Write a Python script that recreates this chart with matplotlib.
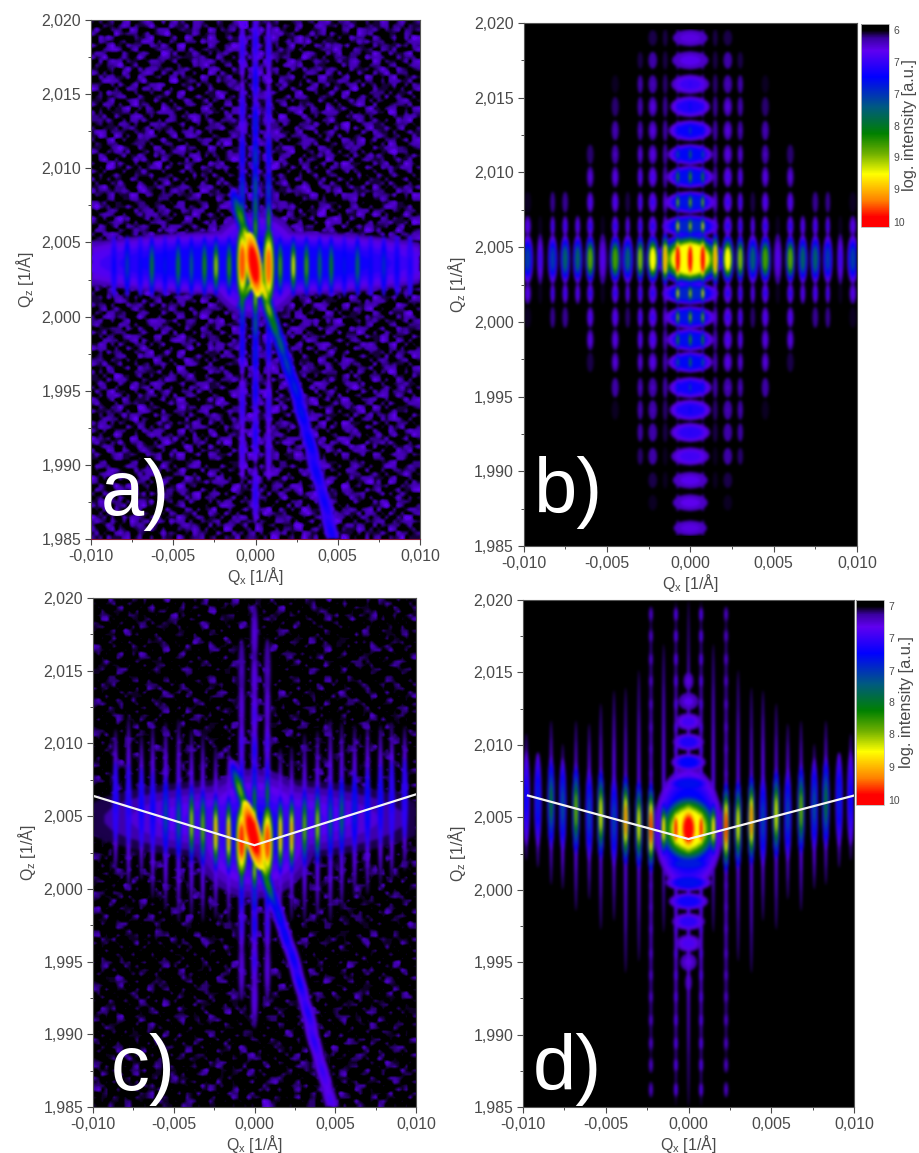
import numpy as np
import matplotlib
matplotlib.use('Agg')
from matplotlib import pyplot as plt
from matplotlib.cm import ScalarMappable
from matplotlib.collections import PolyCollection
from matplotlib.colors import LinearSegmentedColormap, Normalize

W, H = 919, 1153
GRAY = '#4a4a4a'

plt.rcParams['font.family'] = ['Liberation Sans', 'DejaVu Sans']
plt.rcParams['mathtext.default'] = 'regular'

# colours, black = weak end, red = strong end
cmap_pos = [0, 0.03, 0.07, 0.13, 0.26, 0.41, 0.54, 0.64, 0.74, 0.87, 0.95, 1]
cmap_col = ['#000000', '#000000', '#3a00a0', '#6000f0', '#0000ff', '#005a80',
            '#008000', '#70b000', '#ffff00', '#ff8000', '#ff0000', '#ff0000']

x_ticks = [-0.010, -0.005, 0.0, 0.005, 0.010]
x_labels = ['-0,010', '-0,005', '0,000', '0,005', '0,010']
x_minor = [-0.0075, -0.0025, 0.0025, 0.0075]
z_ticks = [1.985, 1.990, 1.995, 2.000, 2.005, 2.010, 2.015, 2.020]
z_labels = ['1,985', '1,990', '1,995', '2,000', '2,005', '2,010', '2,015', '2,020']
z_minor = [1.9875, 1.9925, 1.9975, 2.0025, 2.0075, 2.0125, 2.0175]

cbar_pos = [0.03, 0.185, 0.345, 0.5, 0.655, 0.815, 0.975]
cbar_labels_b = ['6', '7', '7', '8', '9', '9', '10']
cbar_labels_d = ['7', '7', '7', '8', '8', '9', '10']

# ---- a) measured map
qx_a = [-0.0086, -0.0078, -0.0070, -0.0063, -0.0055, -0.0047, -0.0039, -0.0031,
        -0.0024, -0.0016, -0.0008, 0.0, 0.0008, 0.0015, 0.0023, 0.0031, 0.0039,
        0.0046, 0.0054, 0.0062, 0.0070, 0.0078, 0.0086, 0.0094]
lv_a = [0.26, 0.36, 0.28, 0.50, 0.30, 0.50, 0.42, 0.56, 0.68, 0.58, 0.85, 0.97,
        0.82, 0.60, 0.72, 0.60, 0.46, 0.52, 0.30, 0.46, 0.28, 0.34, 0.27, 0.24]
col0_z_a = [2.0185, 2.0160, 2.0130, 2.0108, 2.0087, 2.0073, 2.0060, 2.0012, 1.9995, 1.9975, 1.9950, 1.9920, 1.9880]
col0_lv_a = [0.24, 0.28, 0.32, 0.38, 0.44, 0.50, 0.60, 0.66, 0.44, 0.32, 0.28, 0.25, 0.23]
col1_z_a = [2.0180, 2.0140, 2.0110, 2.0085, 2.0065, 2.0012, 2.0000, 1.9980, 1.9940, 1.9910]
col1_lv_a = [0.22, 0.24, 0.30, 0.38, 0.58, 0.56, 0.36, 0.28, 0.22, 0.20]
diag_qx_a = [-0.0009, -0.0005, -0.0002, 0.0002, 0.0005, 0.0008, 0.0011, 0.0015,
             0.0019, 0.0024, 0.0028, 0.0033, 0.0037, 0.0042, 0.0046]
diag_z_a = [2.0067, 2.0052, 2.0042, 2.0028, 2.0018, 2.0005, 1.9995, 1.9982,
            1.9968, 1.9952, 1.9935, 1.9915, 1.9895, 1.9875, 1.9855]
diag_lv_a = [0.60, 0.78, 0.84, 0.82, 0.78, 0.66, 0.54, 0.44, 0.37, 0.33, 0.30, 0.28, 0.27, 0.26, 0.25]
# speckle of the measured background, estimated by eye, 0 = black .. 4 = bright blue
speckle = [
    '001030120021030010240101002003102100130201',
    '100202001300120201001203100012001032001020',
    '021000130010201300120002013200100120200013',
    '003102001203000102310100020001230010021002',
    '120010200310120020001302100310020201300120',
    '002301002000023101020010032001001300201003',
    '100020130102000300102301000120200010120200',
    '013100200030102012000130210003102002003010',
    '200002013000100000201000100020010300010002',
    '001200000102000130000210003000102000200100',
    '102003100000201002000100200100000130000210',
    '000120020310002100310200013020310002103002',
    '210003100020130002000120300100200120000130',
    '001020002100000210130002000210013003100200',
    '130200130020310000200013102000200000210001',
    '002000200100002013000210000310002130002003',
    '100310002013100200102000130002100200013200',
    '020001200200030001300120200010300002100010',
    '003100013000200120002003100200013100020130',
    '000000100000001000000100000000100000001000',
    '000100000200000010000000200001000000100000',
    '120200310012003100120200102300120010200120',
    '002013000200120020003102000120002300120003',
    '310100201003002013100002310002100200013100',
    '002000130200130000200130020013000130200020',
    '100310002000200102013000201000230000020103',
    '020001200130010300000210003100200013100200',
    '003100020002000120310002000130100200002013',
    '200020130100230002000130102002013000130100',
    '010200002013000100120200310000200120200002',
    '002013100200012003000002000120300002013100',
    '130000200120200130210100130002000310000200',
    '000200310000102000002003000210002000120013',
    '210100002013000210310000120013000130200100',
    '002000130200100002000210002000210002000120',
    '100310002003102000120003100200100200310002',
    '020002100120000210003000020013002013000200',
    '003100200002013000200120103000200100200130',
    '200020013100200130100200000310130002001002',
    '010200100200002000310002013000200130000210',
    '002013002013100200000130200120000200130100',
    '130000200000200130200100002003100013002000',
    '000200130102000102000200310000200000100203',
    '210100002000310000130002000102003100020100',
    '002000210003000210002013000210200020013002',
    '100310000120200002100200130000102000200100',
    '020002103000013100020000210013000310000210',
    '003100020200200000310130002000200000130200',
    '200020100013000130000200100230013002000013',
    '010200310002103000200003102000200130200100',
    '002013000200000210013100000130100002013000',
    '130000200100130000200000210002003100000200',
    '000200013002000200103002000120000200102013',
    '210102000310020013000210130002013000210000',
    '002000210000200100020000002000200130000120',
    '100310002013000210003102013100002000200300',
    '020002000200130000120000200003100210013002',
    '003100130002000200002013000210000200000120',
    '200000200100210130000200100000200013102000',
    '010213000013000000310002013002003000200013',
    '002000100200130200000100200130100210000100',
    '130200310002000013002000002000200000130200',
    '000100000000100200000130100310002103000002',
    '210003102013000100210000200000130000200130',
    '002000200000210003000200013000200120002000',
    '100120000100020000102003000210001000100201',
]
bg_scale_a = [0.02, 0.07, 0.11, 0.16, 0.27]
bg_scale_c = [0.01, 0.04, 0.07, 0.11, 0.20]

# ---- b) simulated map, mirrored around Qx = 0
rows_z_b = [2.0190, 2.0175, 2.0159, 2.0144, 2.0128, 2.0112, 2.0097, 2.0080, 2.0064, 2.0042,
            2.0019, 2.0003, 1.9988, 1.9973, 1.9956, 1.9941, 1.9926, 1.9910, 1.9894, 1.9879, 1.9862]
blob_w_b = [0.0021, 0.0022, 0.0023, 0.0024, 0.0026, 0.0027, 0.0028, 0.0030, 0.0034, 0.0040,
            0.0034, 0.0030, 0.0028, 0.0027, 0.0026, 0.0025, 0.0024, 0.0023, 0.0021, 0.0021, 0.0020]
blob_h_b = [0.0011, 0.0012, 0.0013, 0.0014, 0.0014, 0.0014, 0.0015, 0.0015, 0.0015, 0.0036,
            0.0015, 0.0015, 0.0015, 0.0014, 0.0014, 0.0014, 0.0013, 0.0012, 0.0011, 0.0011, 0.0010]
blob_lv_b = [0.12, 0.14, 0.18, 0.22, 0.25, 0.27, 0.28, 0.29, 0.32, 0.74,
             0.32, 0.29, 0.28, 0.27, 0.24, 0.22, 0.20, 0.17, 0.14, 0.13, 0.12]
# one row per Qz row, columns |n| = 0..13 of the fringe spacing
sides_b = [
    [0.10, 0.10, 0.05, 0.05, 0.03, 0, 0, 0, 0, 0, 0, 0, 0, 0],
    [0.14, 0.12, 0.05, 0.08, 0.05, 0, 0, 0, 0, 0, 0, 0, 0, 0],
    [0.22, 0.17, 0.06, 0.10, 0.10, 0, 0.04, 0, 0, 0, 0, 0, 0, 0],
    [0.30, 0.24, 0.07, 0.14, 0.10, 0, 0.06, 0, 0, 0, 0, 0, 0, 0],
    [0.38, 0.30, 0.08, 0.14, 0.12, 0, 0.10, 0, 0, 0, 0, 0, 0, 0],
    [0.48, 0.42, 0.10, 0.15, 0.14, 0, 0.12, 0, 0.06, 0, 0, 0, 0, 0],
    [0.60, 0.56, 0.12, 0.18, 0.18, 0, 0.16, 0, 0.14, 0, 0, 0, 0, 0],
    [0.66, 0.66, 0.14, 0.20, 0.20, 0.05, 0.18, 0, 0.18, 0, 0.07, 0.07, 0, 0.04],
    [0.70, 0.76, 0.18, 0.22, 0.22, 0.18, 0.22, 0.04, 0.22, 0.18, 0.20, 0.20, 0.04, 0.16],
    [0.98, 0.97, 0.82, 0.74, 0.66, 0.42, 0.60, 0.15, 0.62, 0.44, 0.44, 0.36, 0.18, 0.36],
    [0.70, 0.76, 0.18, 0.22, 0.22, 0.18, 0.22, 0.04, 0.22, 0.18, 0.20, 0.20, 0.04, 0.16],
    [0.66, 0.66, 0.14, 0.20, 0.20, 0.06, 0.18, 0, 0.18, 0, 0.07, 0.07, 0, 0.04],
    [0.58, 0.56, 0.12, 0.18, 0.18, 0, 0.16, 0, 0.16, 0, 0, 0, 0, 0],
    [0.50, 0.44, 0.10, 0.16, 0.14, 0, 0.14, 0, 0.05, 0, 0, 0, 0, 0],
    [0.38, 0.32, 0.08, 0.12, 0.12, 0, 0.08, 0, 0, 0, 0, 0, 0, 0],
    [0.28, 0.24, 0.06, 0.10, 0.10, 0, 0.04, 0, 0, 0, 0, 0, 0, 0],
    [0.22, 0.18, 0.05, 0.08, 0.08, 0, 0.03, 0, 0, 0, 0, 0, 0, 0],
    [0.18, 0.14, 0.04, 0.08, 0.06, 0, 0, 0, 0, 0, 0, 0, 0, 0],
    [0.13, 0.11, 0.04, 0.05, 0.03, 0, 0, 0, 0, 0, 0, 0, 0, 0],
    [0.11, 0.10, 0.03, 0.04, 0, 0, 0, 0, 0, 0, 0, 0, 0, 0],
    [0.11, 0.10, 0.03, 0.03, 0, 0, 0, 0, 0, 0, 0, 0, 0, 0],
]
qx_n_b = [0.0, 0.00075, 0.0015, 0.00225, 0.0030, 0.00375, 0.0045, 0.00525,
          0.0060, 0.00675, 0.0075, 0.00825, 0.0090, 0.00975]
col_w_b = [0.00028, 0.00024, 0.00028, 0.00052, 0.00032, 0.00028, 0.00042, 0.00026,
           0.00040, 0.00032, 0.00034, 0.00028, 0.00024, 0.00042]
main_w_b = [0.0005, 0.0005, 0.0005, 0.0008, 0.0005, 0.0007, 0.0007, 0.0005,
            0.0006, 0.0006, 0.0006, 0.0006, 0.0004, 0.0007]

# ---- c) measured map with V-shaped crystal truncation
qx_c = [-0.0086, -0.0078, -0.0070, -0.0063, -0.0055, -0.0047, -0.0039, -0.0032,
        -0.0024, -0.0016, -0.0008, 0.0, 0.0008, 0.0016, 0.0023, 0.0031, 0.0039,
        0.0047, 0.0054, 0.0062, 0.0070, 0.0078, 0.0085, 0.0093]
lv_c = [0.24, 0.24, 0.26, 0.27, 0.40, 0.44, 0.68, 0.64, 0.82, 0.84, 0.92, 0.97,
        0.90, 0.82, 0.84, 0.64, 0.68, 0.42, 0.46, 0.33, 0.30, 0.28, 0.24, 0.22]
zc_c = [2.0060, 2.0058, 2.0056, 2.0053, 2.0050, 2.0047, 2.0045, 2.0042, 2.0039, 2.0037, 2.0035, 2.0037,
        2.0035, 2.0037, 2.0038, 2.0042, 2.0044, 2.0047, 2.0050, 2.0053, 2.0056, 2.0058, 2.0060, 2.0062]
hi_c = [0.0100, 0.0120, 0.0100, 0.0120, 0.0130, 0.0140, 0.0130, 0.0130, 0.0120, 0.0120, 0.0120, 0.0120,
        0.0120, 0.0120, 0.0120, 0.0130, 0.0130, 0.0140, 0.0130, 0.0120, 0.0120, 0.0110, 0.0110, 0.0100]
col0_z_c = [2.0175, 2.0145, 2.0120, 2.0095, 2.0075, 2.0062, 2.0012, 1.9995, 1.9975, 1.9950, 1.9925]
col0_lv_c = [0.14, 0.16, 0.20, 0.26, 0.34, 0.54, 0.68, 0.36, 0.28, 0.22, 0.16]
col1_z_c = [2.0150, 2.0125, 2.0100, 2.0080, 2.0065, 2.0010, 1.9995, 1.9975, 1.9945]
col1_lv_c = [0.12, 0.15, 0.20, 0.26, 0.54, 0.52, 0.30, 0.22, 0.15]
diag_qx_c = [-0.0009, -0.0005, -0.0002, 0.0002, 0.0005, 0.0008, 0.0011, 0.0015,
             0.0019, 0.0024, 0.0028, 0.0033, 0.0037, 0.0042, 0.0047]
diag_z_c = [2.0068, 2.0053, 2.0042, 2.0027, 2.0017, 2.0004, 1.9995, 1.9982,
            1.9968, 1.9952, 1.9935, 1.9915, 1.9895, 1.9875, 1.9855]
diag_lv_c = [0.64, 0.78, 0.92, 0.84, 0.76, 0.56, 0.36, 0.31, 0.28, 0.27, 0.26, 0.24, 0.22, 0.20, 0.18]
vline_qx_c = [-0.01, 0.0, 0.01]
vline_z_c = [2.0064, 2.0030, 2.0065]

# ---- d) simulated map, mirrored around Qx = 0
qx_n_d = [0.0, 0.00076, 0.0015, 0.00227, 0.0030, 0.0038, 0.0045, 0.0053,
          0.0060, 0.0068, 0.0076, 0.0083, 0.0091, 0.0098]
top_d = [2.0200, 2.0200, 2.0170, 2.0193, 2.0152, 2.0140, 2.0138, 2.0129,
         2.0115, 2.0117, 2.0101, 2.0117, 2.0088, 2.0108]
bot_d = [1.9850, 1.9850, 1.9970, 1.9880, 1.9950, 1.9942, 1.9978, 1.9972,
         1.9993, 1.9985, 2.0000, 2.0003, 2.0015, 2.0020]
zc_d = [2.0042, 2.0042, 2.0042, 2.0043, 2.0045, 2.0048, 2.0048, 2.0052,
        2.0052, 2.0055, 2.0058, 2.0060, 2.0062, 2.0063]
lv_d = [0.98, 0.97, 0.78, 0.92, 0.72, 0.86, 0.38, 0.72, 0.38, 0.64, 0.40, 0.50, 0.32, 0.26]
streak_lv_d = [0.19, 0.17, 0.16, 0.13, 0.18, 0.17, 0.20, 0.18, 0.20, 0.20, 0.22, 0.20, 0.17, 0.19]
chain_z_d = [2.0144, 2.0130, 2.0116, 2.0102, 2.0088, 2.0073, 2.0018, 2.0005, 1.9992, 1.9978, 1.9963, 1.9950, 1.9936]
chain_w_d = [0.0006, 0.0012, 0.0016, 0.0019, 0.0021, 0.0028, 0.0032, 0.0028, 0.0024, 0.0020, 0.0015, 0.0010, 0.0004]
chain_lv_d = [0.12, 0.14, 0.17, 0.22, 0.26, 0.28, 0.30, 0.28, 0.24, 0.20, 0.16, 0.12, 0.09]
beads_z_d = [2.0190, 2.0175, 2.0159, 2.0144, 2.0128, 2.0112, 2.0097, 2.0080, 2.0064, 2.0019, 2.0003,
             1.9988, 1.9973, 1.9956, 1.9941, 1.9926, 1.9910, 1.9894, 1.9879, 1.9862]
vline_qx_d = [-0.0097, 0.0, 0.0100]
vline_z_d = [2.0065, 2.0035, 2.0065]

panels_px = {'a': (91, 20, 420, 539), 'b': (523.5, 23, 857, 546),
             'c': (93, 598, 416, 1107), 'd': (523, 600, 854, 1107)}
cbars_px = {'b': (861, 24, 889, 227), 'd': (856, 600, 884, 805)}
cbar_label_xy = {'b': (1.46, 0.50), 'd': (1.52, 0.50)}
letters = {'a': (-0.0094, 1.98662), 'b': (-0.0094, 1.9872), 'c': (-0.0089, 1.98617), 'd': (-0.0094, 1.98619)}

cmap = LinearSegmentedColormap.from_list('rsm', list(zip(cmap_pos, cmap_col)), N=512)
norm = Normalize(0, 1)
theta = np.linspace(0, 2 * np.pi, 30)
kernel = np.array([1, 4, 6, 4, 1]) / 16


def px_axes(fig, box):
    x0, y0, x1, y1 = box
    return fig.add_axes([x0 / W, 1 - y1 / H, (x1 - x0) / W, (y1 - y0) / H])


def blur(arr):
    for axis in (0, 1):
        arr = np.apply_along_axis(lambda v: np.convolve(v, kernel, mode='same'), axis, arr)
    return arr


def soften(img, dpi):
    # the reference is a blurry scan, keep the array size so nothing leaks out of the axes
    alpha = img[..., 3]
    out = np.zeros_like(img)
    soft = blur(alpha)
    for c in range(3):
        out[..., c] = blur(img[..., c] * alpha) / np.maximum(soft, 1e-3)
    out[..., 3] = soft
    return np.clip(out, 0, 1), 0, 0


def lobe(store, qx, qz, w, h, peak, base, shear=0.0, shrink=0.82):
    # nested outlines, the sorted polygons end up as a max-composited map
    if peak <= 0:
        return
    if peak <= base:
        steps = [(peak, 1.0)]
    else:
        n = max(2, int((peak - base) / 0.03) + 1)
        steps = [(base + (peak - base) * t, 1 - shrink * t) for t in np.linspace(0, 1, n)]
    for level, size in steps:
        dz = 0.5 * h * size * np.sin(theta)
        dx = 0.5 * w * size * np.cos(theta) + shear * dz
        store.append((level, np.column_stack([qx + dx, qz + dz])))


def flush(ax, store):
    store.sort(key=lambda item: item[0])
    coll = PolyCollection([item[1] for item in store], array=np.array([item[0] for item in store]),
                          cmap=cmap, norm=norm, edgecolors='none', linewidths=0)
    coll.set_agg_filter(soften)
    coll.set_rasterized(True)
    ax.add_collection(coll)


def style(ax, name):
    ax.set_xlim(-0.01, 0.01)
    ax.set_ylim(1.985, 2.020)
    ax.set_xticks(x_ticks)
    ax.set_xticklabels(x_labels)
    ax.set_xticks(x_minor, minor=True)
    ax.set_yticks(z_ticks)
    ax.set_yticklabels(z_labels)
    ax.set_yticks(z_minor, minor=True)
    ax.tick_params(which='major', length=4, width=0.8, color=GRAY, labelcolor=GRAY, labelsize=11.4, pad=3)
    ax.tick_params(which='minor', length=2.5, width=0.7, color=GRAY)
    for sp in ax.spines.values():
        sp.set_color('#555555')
        sp.set_linewidth(0.8)
    ax.set_xlabel('Q$_x$ [1/Å]', fontsize=11.4, color=GRAY, labelpad=1)
    ax.set_ylabel('Q$_z$ [1/Å]', fontsize=11.4, color=GRAY, labelpad=4)
    lx, lz = letters[name]
    ax.text(lx, lz, name + ')', color='white', fontsize=56, ha='left', va='baseline')


def measured_bg(ax, rows, scale, flip=False):
    grid = np.array([[scale[int(c)] for c in r] for r in rows])
    if flip:
        grid = grid[::-1, ::-1]
    # the typed cells are coarser than the grain, so lay them over themselves at half size
    fine = 0.5 * (np.kron(grid, np.ones((2, 2))) + np.tile(grid[::-1, ::-1], (2, 2)))
    ax.imshow(fine, extent=(-0.01, 0.01, 1.985, 2.020), origin='upper', aspect='auto',
              cmap=cmap, norm=norm, interpolation='bilinear')


fig = plt.figure(figsize=(W / 100, H / 100), dpi=100, facecolor='white')
axes = {k: px_axes(fig, v) for k, v in panels_px.items()}

# a)
ax = axes['a']
measured_bg(ax, speckle, bg_scale_a)
s = []
lobe(s, 0.0, 2.0036, 0.026, 0.0044, 0.24, 0.09, shrink=0.45)
lobe(s, 0.0, 2.0035, 0.0060, 0.0072, 0.26, 0.09, shrink=0.55)
for q, lv in zip(qx_a, lv_a):
    lobe(s, q, 2.0034, 0.00042, 0.0042, lv, 0.2, shrink=0.7)
lobe(s, -0.0008, 2.0036, 0.00072, 0.0052, 0.90, 0.45, shrink=0.6)
lobe(s, 0.0008, 2.0034, 0.00072, 0.0052, 0.88, 0.45, shrink=0.6)
for z, lv in zip(col0_z_a, col0_lv_a):
    lobe(s, 0.0, z, 0.00046, 0.0040, lv, 0.14)
for q in (-0.0008, 0.0008):
    for z, lv in zip(col1_z_a, col1_lv_a):
        lobe(s, q, z, 0.00042, 0.0042, lv, 0.13)
for q, z, lv in zip(diag_qx_a, diag_z_a, diag_lv_a):
    lobe(s, q, z, 0.00085, 0.0040, lv, 0.16, shear=-0.26)
lobe(s, -0.0001, 2.0035, 0.00095, 0.0044, 0.98, 0.74, shear=-0.12, shrink=0.55)
lobe(s, -0.0003, 2.0021, 0.00055, 0.0032, 0.70, 0.3, shear=0.5)
flush(ax, s)

# b)
ax = axes['b']
ax.set_facecolor('black')
s = []
for i, z in enumerate(rows_z_b):
    lobe(s, 0.0, z, blob_w_b[i], blob_h_b[i], blob_lv_b[i], 0.10, shrink=0.45)
    main_row = blob_lv_b[i] > 0.5
    for n, q in enumerate(qx_n_b):
        lv = sides_b[i][n]
        h = blob_h_b[i] * (1.05 if n < 3 else 0.95)
        w = main_w_b[n] if main_row else col_w_b[n]
        for sign in ((1,) if n == 0 else (-1, 1)):
            lobe(s, sign * q, z, w, h, lv, 0.08, shrink=0.6 if main_row else 0.75)
flush(ax, s)

# c)
ax = axes['c']
measured_bg(ax, speckle, bg_scale_c, flip=True)
s = []
lobe(s, 0.0, 2.0038, 0.0078, 0.0090, 0.25, 0.07, shrink=0.65)
lobe(s, 0.0, 2.0048, 0.0220, 0.0056, 0.17, 0.05, shrink=0.6)
for q, z, lv, h in zip(qx_c, zc_c, lv_c, hi_c):
    lobe(s, q, z, 0.00034, h, 0.20, 0.07, shrink=0.6)
    lobe(s, q, z, 0.00040, 0.0056, lv, 0.2, shrink=0.7)
lobe(s, -0.0008, 2.0033, 0.00072, 0.0050, 0.92, 0.5, shrink=0.6)
lobe(s, 0.0008, 2.0032, 0.00072, 0.0050, 0.90, 0.5, shrink=0.6)
for z, lv in zip(col0_z_c, col0_lv_c):
    lobe(s, 0.0, z, 0.00045, 0.0042, lv, 0.08)
for q in (-0.0008, 0.0008):
    for z, lv in zip(col1_z_c, col1_lv_c):
        lobe(s, q, z, 0.00040, 0.0044, lv, 0.08)
for q, z, lv in zip(diag_qx_c, diag_z_c, diag_lv_c):
    lobe(s, q, z, 0.00085, 0.0044, lv, 0.10, shear=-0.26)
lobe(s, -0.0001, 2.0037, 0.00105, 0.0048, 0.98, 0.74, shear=-0.2, shrink=0.55)
flush(ax, s)
ax.plot(vline_qx_c, vline_z_c, color='#f4f4f4', lw=1.6, solid_joinstyle='miter')

# d)
ax = axes['d']
ax.set_facecolor('black')
s = []
lobe(s, 0.0, 2.0042, 0.0042, 0.0086, 0.26, 0.10, shrink=0.35)
lobe(s, 0.0, 2.0042, 0.0034, 0.0046, 0.74, 0.27, shrink=0.45)
for z, w, lv in zip(chain_z_d, chain_w_d, chain_lv_d):
    lobe(s, 0.0, z, w, 0.0012, lv, 0.09, shrink=0.5)
for n, q in enumerate(qx_n_d):
    for sign in ((1,) if n == 0 else (-1, 1)):
        mid = 0.5 * (top_d[n] + bot_d[n])
        lobe(s, sign * q, mid, 0.00024, top_d[n] - bot_d[n], streak_lv_d[n], 0.07)
        lobe(s, sign * q, zc_d[n], 0.00046 if n > 2 else 0.00040, 0.0066 if n > 2 else 0.0040, lv_d[n], 0.14, shrink=0.7)
        if n in (1, 3):
            for z in beads_z_d:
                lobe(s, sign * q, z, 0.00026, 0.0011, 0.19 if n == 1 else 0.15, 0.07)
lobe(s, 0.0, 2.0042, 0.0012, 0.0034, 0.98, 0.6, shrink=0.6)
flush(ax, s)
ax.plot(vline_qx_d, vline_z_d, color='#f4f4f4', lw=1.6, solid_joinstyle='miter')

for k in 'abcd':
    style(axes[k], k)
axes['a'].spines['bottom'].set_color('#8a1a3a')

# colour bars
for k, labels in (('b', cbar_labels_b), ('d', cbar_labels_d)):
    cax = px_axes(fig, cbars_px[k])
    cb = fig.colorbar(ScalarMappable(norm=norm, cmap=cmap), cax=cax)
    cax.invert_yaxis()
    cb.set_ticks(cbar_pos)
    cb.set_ticklabels(labels)
    cax.tick_params(length=0, labelsize=7.5, labelcolor=GRAY, pad=3)
    cax.minorticks_off()
    cb.set_label('log. intensity [a.u.]', fontsize=11.8, color=GRAY)
    cax.yaxis.set_label_coords(*cbar_label_xy[k])
    cb.outline.set_edgecolor('#bbbbbb')
    cb.outline.set_linewidth(0.6)

fig.savefig('out.png', dpi=100)
